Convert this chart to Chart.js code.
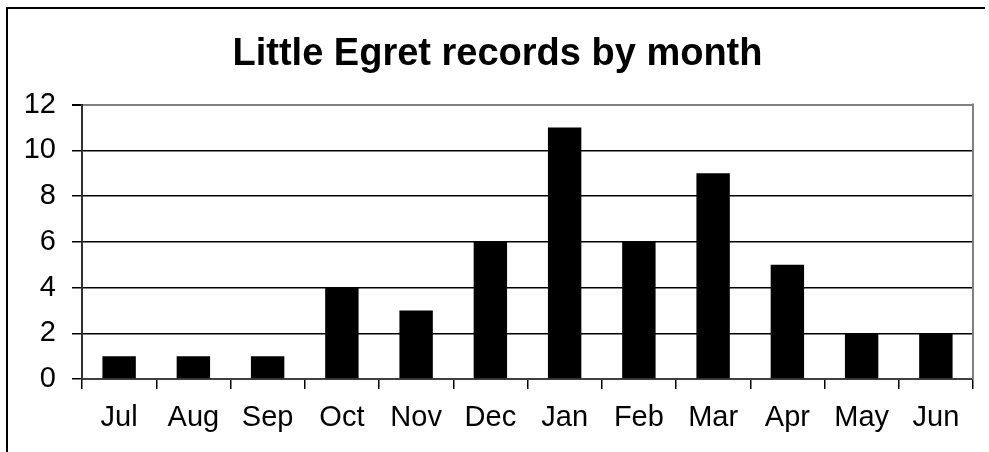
<!DOCTYPE html>
<html>
<head>
<meta charset="utf-8">
<script src="https://cdn.jsdelivr.net/npm/chart.js@4"></script>
<style>
    body { margin: 0; background: #fff; }
    #wrap { position: relative; width: 989px; height: 452px; }
    #frame {
        position: absolute; left: 6px; top: 7px; width: 977px; height: 460px;
        border-top: 2px solid #000; border-left: 2px solid #000;
    }
    canvas { position: absolute; left: 0; top: 0; }
</style>
</head>
<body>
<div id="wrap">
    <div id="frame"></div>
    <canvas id="egretChart" width="989" height="452"></canvas>
</div>
<script>
const chartTitle = 'Little Egret records by month';
const months = ['Jul', 'Aug', 'Sep', 'Oct', 'Nov', 'Dec', 'Jan', 'Feb', 'Mar', 'Apr', 'May', 'Jun'];
const records = [1, 1, 1, 4, 3, 6, 11, 6, 9, 5, 2, 2];
const yMax = 12;
const yStep = 2;

const fontFamily = '"Liberation Sans", Arial, sans-serif';

// Gray right border of the plot area
const plotBorder = {
    id: 'plotBorder',
    afterDraw(chart) {
        const { ctx, chartArea } = chart;
        ctx.save();
        ctx.strokeStyle = '#808080';
        ctx.lineWidth = 2;
        ctx.beginPath();
        ctx.moveTo(chartArea.right, chartArea.top - 1);
        ctx.lineTo(chartArea.right, chartArea.bottom);
        ctx.stroke();
        ctx.restore();
    }
};

document.addEventListener("DOMContentLoaded", function() {
    var ctx = document.getElementById('egretChart').getContext('2d');
    new Chart(ctx, {
        type: 'bar',
        data: {
            labels: months,
            datasets: [{
                data: records,
                backgroundColor: '#000',
                borderWidth: 0,
                barPercentage: 0.45,
                categoryPercentage: 1
            }]
        },
        plugins: [plotBorder],
        options: {
            responsive: false,
            animation: false,
            layout: { padding: { left: 22, right: 16, top: 0, bottom: 0 } },
            plugins: {
                legend: { display: false },
                tooltip: { enabled: false },
                title: {
                    display: true,
                    text: chartTitle,
                    color: '#000',
                    font: { family: fontFamily, size: 38, weight: 'bold', lineHeight: 1.2 },
                    padding: { top: 32, bottom: 27 }
                }
            },
            scales: {
                x: {
                    offset: true,
                    grid: {
                        offset: true,
                        drawOnChartArea: false,
                        color: '#000',
                        lineWidth: 1.5,
                        tickLength: 10
                    },
                    border: { color: '#404040', width: 2 },
                    ticks: {
                        color: '#000',
                        padding: 12,
                        font: { family: fontFamily, size: 29 }
                    },
                    afterFit: function(scale) { scale.height = 73; }
                },
                y: {
                    min: 0,
                    max: yMax,
                    grid: {
                        color: c => c.tick && c.tick.value === yMax ? '#808080' : '#000',
                        lineWidth: c => c.tick && c.tick.value === yMax ? 2 : 1.5,
                        tickColor: '#000',
                        tickLength: 10
                    },
                    border: { color: '#303030', width: 2 },
                    ticks: {
                        stepSize: yStep,
                        color: '#000',
                        padding: 16,
                        font: { family: fontFamily, size: 29 }
                    },
                    afterFit: function(scale) { scale.width = 60; }
                }
            }
        }
    });
});
</script>
</body>
</html>
